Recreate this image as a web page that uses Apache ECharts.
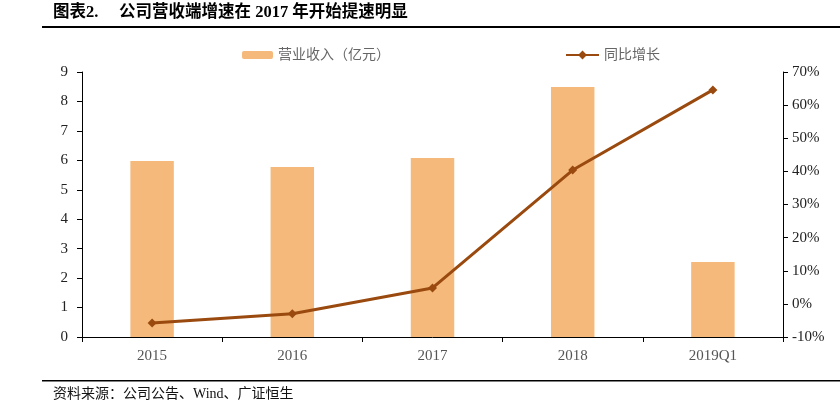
<!DOCTYPE html>
<html><head><meta charset="utf-8">
<script src="https://cdn.jsdelivr.net/npm/echarts@6/dist/echarts.min.js"></script>
<style>html,body{margin:0;padding:0;background:#fff}#c{width:840px;height:416px}</style>
</head><body><div id="c"></div>
<script>
const categories = ['2015', '2016', '2017', '2018', '2019Q1'];
const revenue = [5.98, 5.77, 6.08, 8.49, 2.55];
const growth = [-5.8, -3.0, 4.8, 40.4, 64.6];
const leftTicks = {min: 0, max: 9, interval: 1};
const rightTicks = {min: -10, max: 70, interval: 10};

const serif = '"Liberation Serif", "Noto Sans CJK SC", serif';
const cjk = '"Liberation Serif", "Noto Sans CJK SC", sans-serif';
const chart = echarts.init(document.getElementById('c'));
chart.setOption({
  animation: false,
  backgroundColor: '#fff',
  textStyle: {fontFamily: serif},
  graphic: [
    {type: 'text', left: 53, top: 4, style: {text: '图表2.     公司营收端增速在 2017 年开始提速明显', font: 'bold 16.5px "Liberation Serif", "Noto Sans CJK SC"', fill: '#000'}},
    {type: 'rect', shape: {x: 42, y: 26, width: 798, height: 2}, style: {fill: '#000'}},
    {type: 'rect', shape: {x: 42, y: 380, width: 798, height: 1.5}, style: {fill: '#000'}},
    {type: 'text', left: 53, top: 387, style: {text: '资料来源：公司公告、Wind、广证恒生', font: '14px "Liberation Serif", "Noto Sans CJK SC"', fill: '#111'}}
  ],
  legend: [
    {data: ['营业收入（亿元）'], left: 237, top: 43, itemWidth: 31, itemHeight: 8, itemGap: 4,
     textStyle: {color: '#666', fontSize: 14, fontFamily: cjk}},
    {data: ['同比增长'], left: 560, top: 43, itemWidth: 33, itemHeight: 11,
     textStyle: {color: '#666', fontSize: 14, fontFamily: cjk}}
  ],
  grid: {left: 82, right: 57, top: 72, bottom: 79},
  xAxis: {
    type: 'category', data: categories,
    axisLine: {lineStyle: {color: '#000', width: 1}},
    axisTick: {show: true, interval: 0, length: 5, lineStyle: {color: '#000'}},
    axisLabel: {color: '#555', fontSize: 15, margin: 12, fontFamily: serif}
  },
  yAxis: [
    {type: 'value', min: leftTicks.min, max: leftTicks.max, interval: leftTicks.interval,
     splitLine: {show: false},
     axisLine: {show: true, lineStyle: {color: '#000'}},
     axisTick: {show: true, length: 5, lineStyle: {color: '#000'}},
     axisLabel: {color: '#222', fontSize: 15, margin: 14, fontFamily: serif}},
    {type: 'value', min: rightTicks.min, max: rightTicks.max, interval: rightTicks.interval,
     splitLine: {show: false},
     axisLine: {show: true, lineStyle: {color: '#000'}},
     axisTick: {show: true, length: 5, lineStyle: {color: '#000'}},
     axisLabel: {color: '#222', fontSize: 15, margin: 9, formatter: '{value}%', fontFamily: serif}}
  ],
  series: [
    {name: '营业收入（亿元）', type: 'bar', data: revenue, barWidth: '31%',
     itemStyle: {color: '#F4B97B'}},
    {name: '同比增长', type: 'line', yAxisIndex: 1, data: growth,
     symbol: 'diamond', symbolSize: 9, z: 5,
     lineStyle: {color: '#9A4A0E', width: 3},
     itemStyle: {color: '#9A4A0E'}}
  ]
});
</script></body></html>
